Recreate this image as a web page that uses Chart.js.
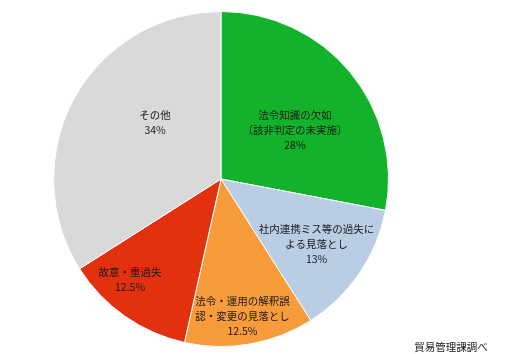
<!DOCTYPE html>
<html>
<head>
<meta charset="utf-8">
<script src="https://cdn.jsdelivr.net/npm/chart.js@4.4.1/dist/chart.umd.min.js"></script>
<style>
  html, body { margin: 0; padding: 0; background: #fff; }
  #wrap { position: relative; width: 512px; height: 354px; }
</style>
</head>
<body>
<div id="wrap"><canvas id="pieChart" width="512" height="354"></canvas></div>
<script>
const labels = [
    ['法令知識の欠如', '（該非判定の未実施）'],
    ['社内連携ミス等の過失に', 'よる見落とし'],
    ['法令・運用の解釈誤', '認・変更の見落とし'],
    ['故意・重過失'],
    ['その他']
];
const values = [28, 13, 12.5, 12.5, 34];
const valueText = ['28%', '13%', '12.5%', '12.5%', '34%'];
const colors = ['#12b22b', '#b9cde5', '#f79b3b', '#e3300f', '#d9d9d9'];

// where each label sits: fraction of radius, angle tweak in degrees
const labelPlace = [[0.53, 6], [0.69, 0], [0.83, 1], [0.81, 7], [0.52, 12]];

const sliceLabels = {
    id: 'sliceLabels',
    afterDatasetsDraw(chart) {
        const c = chart.ctx;
        const meta = chart.getDatasetMeta(0);
        c.save();
        c.font = '10.5px "Noto Sans CJK JP", sans-serif';
        c.fillStyle = '#1a1a1a';
        c.textAlign = 'center';
        c.textBaseline = 'middle';
        meta.data.forEach((arc, i) => {
            const p = arc.getProps(['x', 'y', 'startAngle', 'endAngle', 'outerRadius'], true);
            const mid = (p.startAngle + p.endAngle) / 2 + labelPlace[i][1] * Math.PI / 180;
            const r = p.outerRadius * labelPlace[i][0];
            const cx = p.x + Math.cos(mid) * r;
            const cy = p.y + Math.sin(mid) * r;
            const lines = labels[i].concat([valueText[i]]);
            const lh = 15;
            const top = cy - (lines.length - 1) * lh / 2;
            lines.forEach((t, k) => c.fillText(t, cx, top + k * lh));
        });
        c.fillText('貿易管理課調べ', 451, 347);
        c.restore();
    }
};

const ctx = document.getElementById('pieChart').getContext('2d');

new Chart(ctx, {
    type: 'pie',
    data: {
        labels: labels.map(l => l.join('')),
        datasets: [{
            data: values,
            backgroundColor: colors,
            borderColor: '#ffffff',
            borderWidth: 1
        }]
    },
    options: {
        responsive: false,
        animation: false,
        layout: { padding: { top: 11, bottom: 7, left: 53, right: 123 } },
        plugins: {
            legend: { display: false },
            tooltip: { enabled: false }
        }
    },
    plugins: [sliceLabels]
});
</script>
</body>
</html>
